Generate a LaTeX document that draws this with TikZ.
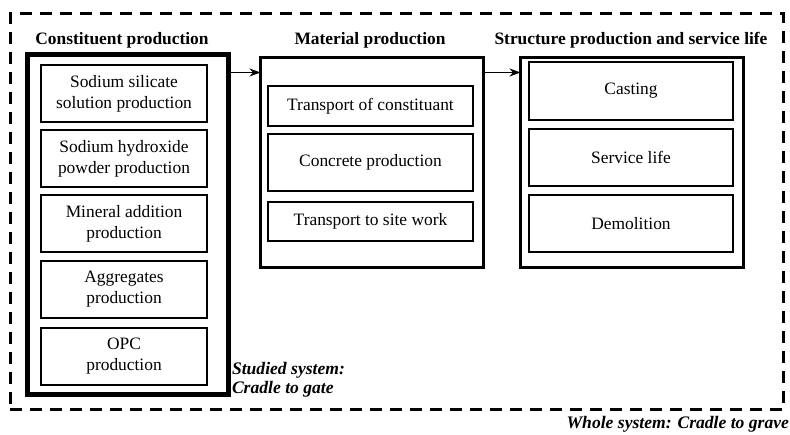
\documentclass[tikz,border=0pt]{standalone}
\usepackage{fontspec}
\setmainfont{Liberation Serif}
\usetikzlibrary{arrows.meta}
\begin{document}
\begin{tikzpicture}[x=1pt,y=-1pt,
  every node/.style={inner sep=0pt, outer sep=0pt},
  txt/.style={font=\fontsize{17.4}{21}\selectfont, align=center},
  stage/.style={draw, line width=1.5pt, txt},
  group/.style={draw, line width=3pt},
  heavy/.style={draw, line width=5pt},
  title/.style={font=\fontsize{17.4}{21}\selectfont\bfseries},
  note/.style={font=\fontsize{17.6}{19}\selectfont\bfseries\itshape, align=left},
  flow/.style={-{Stealth[length=11pt,width=8pt]}, line width=1.3pt}
]
\useasboundingbox (0,0) rectangle (790,435);

% whole system boundary
\node[draw, line width=3pt, dash pattern=on 12pt off 8pt,
      minimum width=773pt, minimum height=396pt] (whole) at (396.5,212) {};

% stage containers
\node[heavy, minimum width=201pt, minimum height=340pt] (cons) at (127.5,225) {};
\node[group, minimum width=223pt, minimum height=210pt] (mat) at (372,162.5) {};
\node[group, minimum width=223pt, minimum height=210pt] (str) at (632,162.5) {};

% headings
\node[title] (tcons) at (122,40) {Constituent production};
\node[title] (tmat) at (370,40) {Material production};
\node[title] (tstr) at (631,40) {Structure production and service life};

% constituent production
\node[stage, minimum width=166pt, minimum height=57pt] (c1) at (124,93.5) {Sodium silicate\\solution production};
\node[stage, minimum width=166pt, minimum height=57pt] (c2) at (124,158.5) {Sodium hydroxide\\powder production};
\node[stage, minimum width=166pt, minimum height=57pt] (c3) at (124,223.5) {Mineral addition\\production};
\node[stage, minimum width=166pt, minimum height=57pt] (c4) at (124,289.5) {Aggregates\\production};
\node[stage, minimum width=166pt, minimum height=57pt] (c5) at (124,356.5) {OPC\\production};

% material production
\node[stage, minimum width=205pt, minimum height=40pt] (m1) at (370.5,106) {Transport of constituant};
\node[stage, minimum width=205pt, minimum height=57pt] (m2) at (370.5,162.5) {Concrete production};
\node[stage, minimum width=205pt, minimum height=39pt] (m3) at (370.5,221.5) {Transport to site work};

% structure production and service life
\node[stage, minimum width=204pt, minimum height=58pt] (s1) at (631,91) {Casting};
\node[stage, minimum width=204pt, minimum height=57pt] (s2) at (631,157.5) {Service life};
\node[stage, minimum width=204pt, minimum height=57pt] (s3) at (631,223.5) {Demolition};

% flows between stages
\coordinate (fy) at (0,72.5);
\draw[flow] (cons.east |- fy) -- (mat.west |- fy);
\draw[flow] (mat.east |- fy) -- (str.west |- fy);

% system notes
\node[note, anchor=west] (studied) at (232,380) {Studied system:\\Cradle to gate};
\node[note, anchor=east] (wholenote) at (789,424) {Whole system: Cradle to grave};
\end{tikzpicture}
\end{document}
